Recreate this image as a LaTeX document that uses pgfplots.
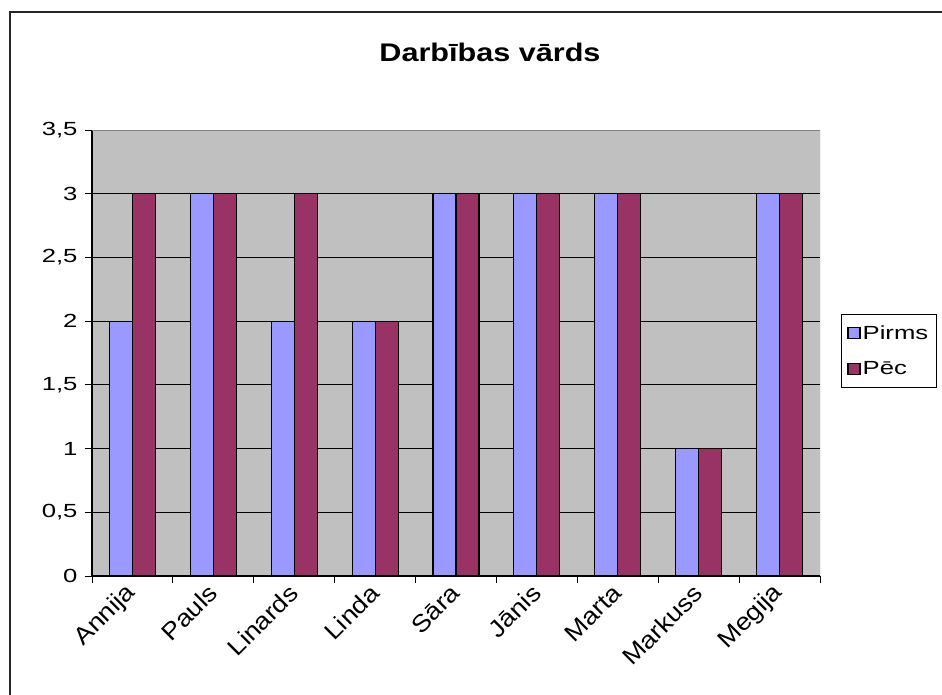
\documentclass[border=0pt]{standalone}
\usepackage{pgfplots}
\pgfplotsset{compat=1.18}
\usepackage{fontspec}
\setmainfont[FakeStretch=1.35]{Liberation Sans}
\newfontfamily\titlefont[FakeStretch=1.2]{Liberation Sans}
\newfontfamily\catfont[FakeStretch=1.12]{Liberation Sans}
\definecolor{pirms}{HTML}{9999FF}
\definecolor{pec}{HTML}{993366}
\definecolor{plotbg}{HTML}{C0C0C0}
\begin{document}
\begin{tikzpicture}[x=1pt,y=1pt]
\useasboundingbox (0,0) rectangle (942,-695);
\fill[white] (0,0) rectangle (942,-695);
\draw[black!85, line width=1.3pt] (10,-695) -- (10,-12) -- (942,-12);
\node[font=\titlefont\fontsize{25.5}{28}\selectfont\bfseries] at (490,-52) {Darbības vārds};
\begin{axis}[
  at={(92pt,-576pt)}, anchor=south west, scale only axis,
  width=728pt, height=446pt,
  ybar=0pt, bar width=23pt,
  xmin=-0.5, xmax=8.5, ymin=0, ymax=3.5,
  xtick={-0.5,0.5,1.5,2.5,3.5,4.5,5.5,6.5,7.5,8.5},
  x tick label as interval,
  xticklabels={Annija,Pauls,Linards,Linda,Sāra,Jānis,Marta,Markuss,Megija},
  ytick={0,0.5,1,1.5,2,2.5,3,3.5},
  /pgf/number format/use comma,
  /pgf/number format/assume math mode=true,
  tick align=outside, major tick length=7pt,
  tick style={black, line width=1pt},
  axis x line*=bottom, axis y line*=left,
  axis line style={black, line width=1.2pt, -},
  axis background/.style={fill=plotbg},
  ymajorgrids, grid style={black, line width=0.9pt},
  yticklabel style={font=\fontsize{19}{21}\selectfont, anchor=east, xshift=-4pt},
  xticklabel style={font=\catfont\fontsize{24}{26}\selectfont, rotate=45, anchor=east, yshift=-4pt, xshift=-1pt},
  legend style={at={(1.0288,0.5045)}, anchor=west, draw=black, fill=white,
    line width=1pt,
    font=\fontsize{19}{21}\selectfont, row sep=17pt, inner xsep=6pt, inner ysep=9pt,
    /tikz/every even column/.append style={column sep=6pt}},
  legend cell align=left,
  legend image code/.code={\draw[#1, draw=black, line width=1.2pt] (0pt,-5.5pt) rectangle (12pt,5.5pt);},
]
\addplot[fill=pirms, draw=black, line width=1.2pt] coordinates {(0,2) (1,3) (2,2) (3,2) (4,3) (5,3) (6,3) (7,1) (8,3)};
\addplot[fill=pec, draw=black, line width=1.2pt] coordinates {(0,3) (1,3) (2,3) (3,2) (4,3) (5,3) (6,3) (7,1) (8,3)};
\legend{Pirms,Pēc}
\draw[gray, line width=1pt] (rel axis cs:0,1) -- (rel axis cs:1,1) -- (rel axis cs:1,0);
\end{axis}
\end{tikzpicture}
\end{document}
